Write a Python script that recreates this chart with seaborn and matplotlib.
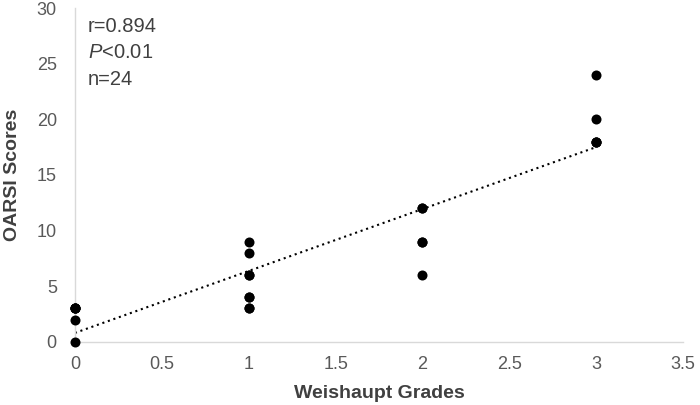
import numpy as np
import pandas as pd
import matplotlib
matplotlib.use("Agg")
import matplotlib.pyplot as plt
import seaborn as sns

# Data (overlapping points duplicated to n=24)
grades = [0, 0, 0, 0, 0, 0,
          1, 1, 1, 1, 1, 1, 1, 1,
          2, 2, 2, 2, 2,
          3, 3, 3, 3, 3]
scores = [0, 2, 3, 3, 3, 3,
          3, 3, 4, 4, 6, 6, 8, 9,
          6, 9, 9, 12, 12,
          18, 18, 18, 20, 24]
x_ticks = [0, 0.5, 1, 1.5, 2, 2.5, 3, 3.5]
x_tick_labels = ["0", "0.5", "1", "1.5", "2", "2.5", "3", "3.5"]
y_ticks = [0, 5, 10, 15, 20, 25, 30]
stats_lines = ["r=0.894", "$\\it{P}$<0.01", "n=24"]

df = pd.DataFrame({"Weishaupt Grades": grades, "OARSI Scores": scores})

sns.set_theme(style="white")
plt.rcParams["font.family"] = ["Liberation Sans", "DejaVu Sans"]
plt.rcParams["mathtext.fontset"] = "custom"
plt.rcParams["mathtext.it"] = "Liberation Sans:italic"
plt.rcParams["mathtext.rm"] = "Liberation Sans"

fig = plt.figure(figsize=(7.0, 4.05), dpi=100)
ax = fig.add_axes([0.107, 0.156, 0.869, 0.824])

sns.regplot(data=df, x="Weishaupt Grades", y="OARSI Scores", ax=ax, ci=None,
            scatter_kws={"s": 52, "color": "black", "alpha": 1, "clip_on": False,
                         "zorder": 3, "linewidths": 0},
            line_kws={"color": "black", "linestyle": (0, (1, 1.8)), "linewidth": 1.5})

ax.set_xlim(0, 3.5)
ax.set_ylim(0, 30)
ax.set_xticks(x_ticks)
ax.set_xticklabels(x_tick_labels)
ax.set_yticks(y_ticks)
ax.tick_params(axis="both", length=0, labelsize=13, colors="#595959")
ax.tick_params(axis="x", pad=10)
ax.tick_params(axis="y", pad=13)

for s in ["top", "right"]:
    ax.spines[s].set_visible(False)
for s in ["left", "bottom"]:
    ax.spines[s].set_color("#d9d9d9")
    ax.spines[s].set_linewidth(1.0)

ax.set_xlabel("Weishaupt Grades", fontsize=14, fontweight="bold", color="#404040", labelpad=9)
ax.set_ylabel("OARSI Scores", fontsize=14, fontweight="bold", color="#404040", labelpad=11)

for i, line in enumerate(stats_lines):
    ax.text(88 / 700, 1 - (32 + 26.5 * i) / 405, line, transform=fig.transFigure,
            fontsize=14.5, color="#404040", ha="left", va="baseline")

fig.savefig("out.png", dpi=100)
